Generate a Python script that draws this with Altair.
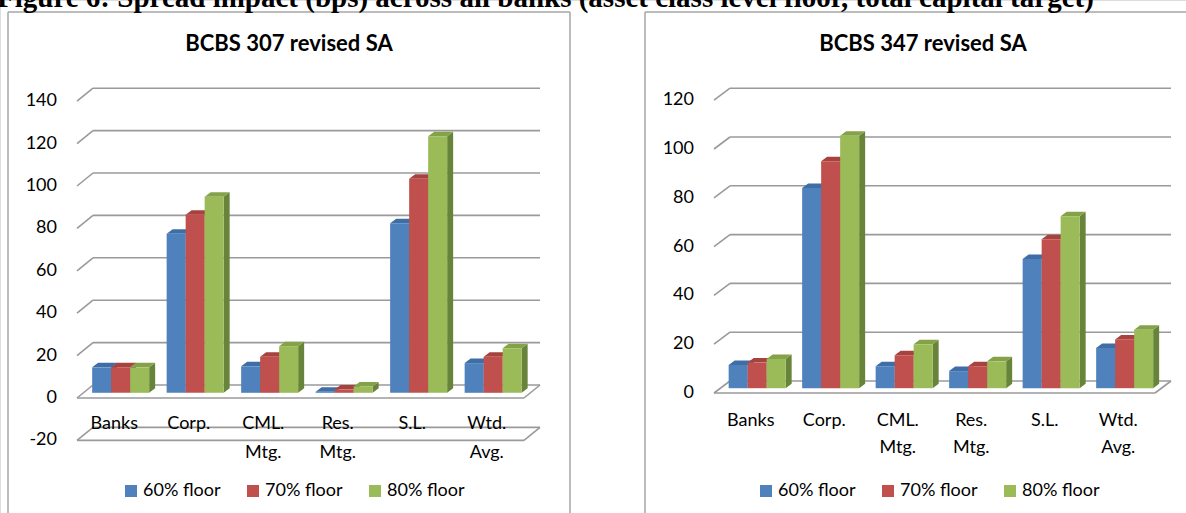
import altair as alt
import pandas as pd

# ---------------- data ----------------
categories = ["Banks", "Corp.", "CML.\nMtg.", "Res.\nMtg.", "S.L.", "Wtd.\nAvg."]
series = ["60% floor", "70% floor", "80% floor"]

caption = "Figure 6: Spread impact (bps) across all banks (asset class level floor, total capital target)"
left_title = "BCBS 307 revised SA"
right_title = "BCBS 347 revised SA"

left_60 = [12, 75, 12.5, 0.5, 80, 14]
left_70 = [12, 84, 17, 1.5, 101, 17]
left_80 = [12, 92.5, 22, 3, 121, 21]

right_60 = [9.5, 82, 9, 7, 53, 16.5]
right_70 = [10.5, 93, 13.5, 9, 61, 20]
right_80 = [12, 103.5, 18, 11, 70.5, 24]

left_ticks = [-20, 0, 20, 40, 60, 80, 100, 120, 140]
right_ticks = [0, 20, 40, 60, 80, 100, 120]

# ---------------- style / layout ----------------
W, H = 1186, 513
FONT = "Lato"
GRID = "#9a9a9a"
BORDER = "#a6a6a6"
FRONT = ["#4F81BD", "#C0504D", "#9BBB59"]
TOP = ["#3F6EA7", "#A7423F", "#84A248"]
SIDE = ["#345B8C", "#8A3431", "#68843A"]


def panel(values, ticks, floors, geom):
    x0, y0, ux, uy = geom["x0"], geom["y0"], geom["ux"], geom["uy"]
    xs = alt.Scale(domain=[-x0 / ux, (W - x0) / ux], nice=False, zero=False)
    ys = alt.Scale(domain=[(y0 - H) / uy, y0 / uy], nice=False, zero=False)
    DX, DY = geom["dx"] / ux, geom["dy"] / uy
    BX, BY = 0.4 * DX, 0.4 * DY
    bw = geom["bar"] / ux
    tx, ty = geom["tx"] / ux, geom["ty"] / uy
    pad = (1 - 3 * bw) / 2
    n = len(categories)

    # 3D grid: back wall lines, wall diagonals, floors
    seg = []
    for v in ticks:
        seg.append(dict(x=DX, y=v + DY, x2=n + DX, y2=v + DY))
        seg.append(dict(x=0, y=v, x2=DX, y2=v + DY))
        if v in floors:
            seg.append(dict(x=0, y=v, x2=n, y2=v))
            seg.append(dict(x=n, y=v, x2=n + DX, y2=v + DY))
    grid = alt.Chart(pd.DataFrame(seg)).mark_rule(color=GRID, strokeWidth=1.6).encode(
        x=alt.X("x:Q", scale=xs, axis=None),
        y=alt.Y("y:Q", scale=ys, axis=None),
        x2="x2:Q",
        y2="y2:Q",
    )

    fronts, sides, tops = [], [], []
    for i in range(n):
        for k, s in enumerate(series):
            v = values[k][i]
            xa = i + pad + k * bw + BX
            xb = xa + bw
            yb = BY
            yt = v + BY
            bid = f"{i}-{k}"
            fronts.append(dict(Series=s, xa=xa, xb=xb, yb=yb, yt=yt))
            sides += [
                dict(bid=bid, x=xb, y=yb, y2=yt, c=SIDE[k]),
                dict(bid=bid, x=xb + tx, y=yb + ty, y2=yt + ty, c=SIDE[k]),
            ]
            tops += [
                dict(bid=bid, x=xa, y=yt, y2=yt, c=TOP[k]),
                dict(bid=bid, x=xa + tx, y=yt, y2=yt + ty, c=TOP[k]),
                dict(bid=bid, x=xb, y=yt, y2=yt + ty, c=TOP[k]),
                dict(bid=bid, x=xb + tx, y=yt + ty, y2=yt + ty, c=TOP[k]),
            ]

    def face(rows):
        return alt.Chart(pd.DataFrame(rows)).mark_area(orient="vertical", interpolate="linear").encode(
            x=alt.X("x:Q", scale=xs, axis=None),
            y=alt.Y("y:Q", scale=ys, axis=None),
            y2="y2:Q",
            detail="bid:N",
            color=alt.Color("c:N", scale=None),
        )

    front = alt.Chart(pd.DataFrame(fronts)).mark_rect().encode(
        x=alt.X("xa:Q", scale=xs, axis=None),
        x2="xb:Q",
        y=alt.Y("yb:Q", scale=ys, axis=None),
        y2="yt:Q",
        color=alt.Color(
            "Series:N",
            scale=alt.Scale(domain=series, range=FRONT),
            legend=alt.Legend(
                orient="none",
                legendX=geom["legx"],
                legendY=geom["legy"],
                direction="horizontal",
                title=None,
                symbolType="square",
                symbolSize=144,
                symbolStrokeWidth=0,
                symbolOpacity=1,
                labelFont=FONT,
                labelFontSize=18,
                labelColor="#000000",
                labelOffset=3,
                columnPadding=23,
                padding=0,
            ),
        ),
    )

    ytl = pd.DataFrame(dict(x=[0] * len(ticks), v=ticks, lab=[str(t) for t in ticks]))
    ylabels = alt.Chart(ytl).mark_text(
        align="right", baseline="middle", dx=-20, font=FONT, fontSize=18, color="#000000"
    ).encode(
        x=alt.X("x:Q", scale=xs, axis=None),
        y=alt.Y("v:Q", scale=ys, axis=None),
        text="lab:N",
    )

    cdf = pd.DataFrame(dict(x=[i + 0.5 for i in range(n)], y=[ticks[0]] * n, lab=categories))
    clabels = alt.Chart(cdf).mark_text(
        align="center", baseline="top", dy=geom["labdy"], font=FONT, fontSize=18,
        lineBreak="\n", lineHeight=geom["lh"], color="#000000"
    ).encode(
        x=alt.X("x:Q", scale=xs, axis=None),
        y=alt.Y("y:Q", scale=ys, axis=None),
        text="lab:N",
    )

    title = alt.Chart(pd.DataFrame(dict(t=[geom["title"]]))).mark_text(
        align="center", baseline="middle", font=FONT, fontSize=22, fontWeight="bold", color="#000000"
    ).encode(x=alt.value(geom["tx_title"]), y=alt.value(44), text="t:N")

    return [grid, face(sides), face(tops), front, ylabels, clabels, title]


left_geom = dict(x0=77, y0=398, ux=74.5, uy=2.12, dx=16, dy=13, bar=19, tx=6, ty=4.5,
                 legx=122, legy=482, labdy=-25, lh=29, title=left_title, tx_title=289)
right_geom = dict(x0=714, y0=393, ux=73.5, uy=2.44, dx=16, dy=12, bar=19, tx=6, ty=4.5,
                  legx=757, legy=482, labdy=19, lh=27, title=right_title, tx_title=923)

left_layers = panel([left_60, left_70, left_80], left_ticks, [-20, 0], left_geom)
right_layers = panel([right_60, right_70, right_80], right_ticks, [0], right_geom)

one = pd.DataFrame(dict(a=[0]))
borders = [
    alt.Chart(one).mark_rule(color=BORDER, strokeWidth=1.5).encode(x=alt.value(8), y=alt.value(12), y2=alt.value(H + 5)),
    alt.Chart(one).mark_rule(color=BORDER, strokeWidth=1.5).encode(x=alt.value(570), y=alt.value(12), y2=alt.value(H + 5)),
    alt.Chart(one).mark_rule(color=BORDER, strokeWidth=1.5).encode(x=alt.value(8), x2=alt.value(570), y=alt.value(12)),
    alt.Chart(one).mark_rule(color=BORDER, strokeWidth=1.5).encode(x=alt.value(645), y=alt.value(12), y2=alt.value(H + 5)),
    alt.Chart(one).mark_rule(color=BORDER, strokeWidth=1.5).encode(x=alt.value(645), x2=alt.value(W + 5), y=alt.value(12)),
]

cap = alt.Chart(pd.DataFrame(dict(t=[caption]))).mark_text(
    align="left", baseline="alphabetic", font="Liberation Serif", fontSize=29, fontWeight="bold", color="#000000"
).encode(x=alt.value(-3), y=alt.value(7), text="t:N")

chart = alt.layer(*borders, cap, *left_layers, *right_layers).resolve_scale(
    x="independent", y="independent", color="independent"
).resolve_legend(color="independent").properties(
    width=W, height=H, autosize=alt.AutoSizeParams(type="none"), padding=0
).configure_view(stroke=None).configure(background="white")

chart.save("out.html", embed_options={"renderer": "svg", "actions": False})
